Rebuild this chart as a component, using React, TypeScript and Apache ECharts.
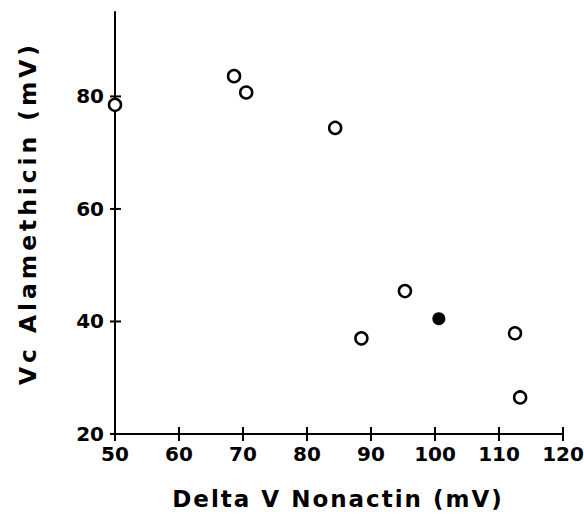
import React, { useEffect, useRef } from "react";
import * as echarts from "echarts";

const openX = [50, 68.6, 70.5, 84.4, 88.5, 95.3, 112.5, 113.3];
const openY = [78.5, 83.6, 80.7, 74.4, 37.0, 45.4, 37.9, 26.5];
const filledX = [100.6];
const filledY = [40.5];
const xTicks = [50, 60, 70, 80, 90, 100, 110, 120];
const yTicks = [20, 40, 60, 80];
const xTitle = "Delta V Nonactin (mV)";
const yTitle = "Vc Alamethicin (mV)";

const X_MIN = 50;
const X_MAX = 120;
const Y_MIN = 20;
const Y_MAX = 95;

const FONT = "DejaVu Sans";
const W = 584;
const H = 515;
const GRID = { left: 115, right: 21, top: 12, bottom: 81 };

export default function App() {
  const ref = useRef<HTMLDivElement>(null);
  useEffect(() => {
    if (!ref.current) return;
    const chart = echarts.init(ref.current, null, { renderer: "svg" });
    const lineStyle = { color: "#000", width: 2 };
    chart.setOption({
      animation: false,
      backgroundColor: "#ffffff",
      grid: { ...GRID, containLabel: false, outerBoundsMode: "none" },
      xAxis: {
        type: "value",
        min: X_MIN,
        max: X_MAX,
        interval: 10,
        splitLine: { show: false },
        axisLine: { show: true, onZero: false, lineStyle },
        axisTick: { show: false },
        axisLabel: { customValues: xTicks, color: "#000", fontFamily: FONT, fontSize: 20, fontWeight: "bold", margin: 10 },
      },
      yAxis: {
        type: "value",
        min: Y_MIN,
        max: Y_MAX,
        interval: 20,
        splitLine: { show: false },
        axisLine: { show: true, onZero: false, lineStyle },
        axisTick: { show: false },
        axisLabel: { customValues: yTicks, color: "#000", fontFamily: FONT, fontSize: 20, fontWeight: "bold", margin: 11 },
      },
      graphic: [
        {
          type: "text",
          x: 338,
          y: 499,
          style: {
            text: xTitle,
            fill: "#000",
            fontFamily: FONT,
            fontSize: 23,
            fontWeight: "bold",
            textAlign: "center",
            textVerticalAlign: "middle",
          },
        },
        {
          type: "text",
          x: 28,
          y: 213,
          rotation: Math.PI / 2,
          style: {
            text: yTitle,
            fill: "#000",
            fontFamily: FONT,
            fontSize: 23.5,
            fontWeight: "bold",
            textAlign: "center",
            textVerticalAlign: "middle",
          },
        },
      ],
      series: [
        {
          type: "custom",
          name: "xTicks",
          clip: false,
          silent: true,
          data: xTicks.map((v) => [v, Y_MIN]),
          renderItem: (params: any, api: any) => {
            const p = api.coord([api.value(0), api.value(1)]);
            return {
              type: "line",
              shape: { x1: p[0], y1: p[1] - 7, x2: p[0], y2: p[1] + 7 },
              style: { stroke: "#000", lineWidth: 2 },
            };
          },
          z: 3,
        },
        {
          type: "custom",
          name: "yTicks",
          clip: false,
          silent: true,
          data: yTicks.map((v) => [X_MIN, v]),
          renderItem: (params: any, api: any) => {
            const p = api.coord([api.value(0), api.value(1)]);
            return {
              type: "line",
              shape: { x1: p[0] - 5, y1: p[1], x2: p[0] + 6, y2: p[1] },
              style: { stroke: "#000", lineWidth: 2 },
            };
          },
          z: 3,
        },
        {
          type: "scatter",
          data: openX.map((x, i) => [x, openY[i]]),
          symbol: "circle",
          symbolSize: 12,
          itemStyle: { color: "#fff", borderColor: "#000", borderWidth: 2.5, opacity: 1 },
          z: 5,
        },
        {
          type: "scatter",
          data: filledX.map((x, i) => [x, filledY[i]]),
          symbol: "circle",
          symbolSize: 13,
          itemStyle: { color: "#000", borderWidth: 0, opacity: 1 },
          z: 5,
        },
      ],
    });
    return () => chart.dispose();
  }, []);
  return (
    <>
      <style>{`
        text[style*="23px"], text[font-size="23px"] { letter-spacing: 2px; }
        text[style*="23.5px"], text[font-size="23.5px"] { letter-spacing: 3.9px; }
      `}</style>
      <div ref={ref} style={{ position: "absolute", left: 0, top: 0, width: W, height: H }} />
    </>
  );
}
